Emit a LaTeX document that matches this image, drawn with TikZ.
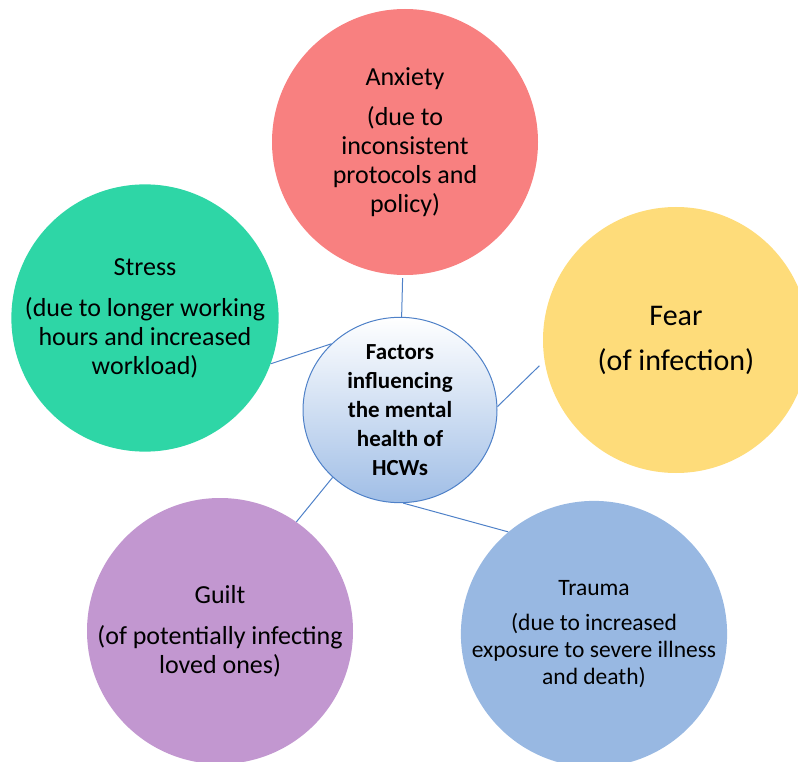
\documentclass[tikz,border=0pt]{standalone}
\usepackage{fontspec}
\setmainfont{Carlito}
\usetikzlibrary{shapes.geometric}

\definecolor{anxred}{RGB}{248,128,128}
\definecolor{stressgreen}{RGB}{46,214,166}
\definecolor{fearyellow}{RGB}{254,220,122}
\definecolor{guiltpurple}{RGB}{194,151,208}
\definecolor{traumablue}{RGB}{152,184,226}
\definecolor{hubblue}{RGB}{160,190,230}
\definecolor{linkblue}{RGB}{79,129,200}

\begin{document}
\begin{tikzpicture}[x=1pt, y=-1pt,
    factor/.style={circle, minimum size=266pt, inner sep=0pt, align=center, text=black,
        font=\fontsize{26}{29}\selectfont},
    hub/.style={ellipse, minimum width=194pt, minimum height=184pt, inner sep=0pt,
        align=center, top color=white, bottom color=hubblue, draw=linkblue, line width=1pt,
        font=\bfseries\fontsize{23}{29}\selectfont},
    link/.style={draw=linkblue, line width=1pt}]
    \useasboundingbox (0,0) rectangle (798,762);

    % Centre
    \node[hub] (hub) at (400,410) {Factors\\influencing\\the mental\\health of\\HCWs};

    % Factors around the centre
    \node[factor, fill=anxred] (anx) at (405,142)
        {Anxiety\\[11pt](due to\\inconsistent\\protocols and\\policy)};
    \node[factor, fill=stressgreen] (stress) at (145,318)
        {Stress\\[12pt](due to longer working\\hours and increased\\workload)};
    \node[factor, fill=fearyellow, font=\fontsize{30}{35}\selectfont] (fear) at (676,340)
        {Fear\\[10pt](of infection)};
    \node[factor, fill=guiltpurple] (guilt) at (220,631)
        {Guilt\\[12pt](of potentially infecting\\loved ones)};
    \node[factor, fill=traumablue, font=\fontsize{23.5}{27}\selectfont] (trauma) at (594,634)
        {Trauma\\[8pt](due to increased\\exposure to severe illness\\and death)};

    \path[link]
    (hub.89) edge [shorten >=3pt] (anx.-91)
    (hub.136) edge (stress.-20)
    (hub.2) edge [shorten >=7pt] (fear.189)
    (hub.225) edge (guilt.55)
    (hub.-88) edge (trauma.130);
\end{tikzpicture}
\end{document}
